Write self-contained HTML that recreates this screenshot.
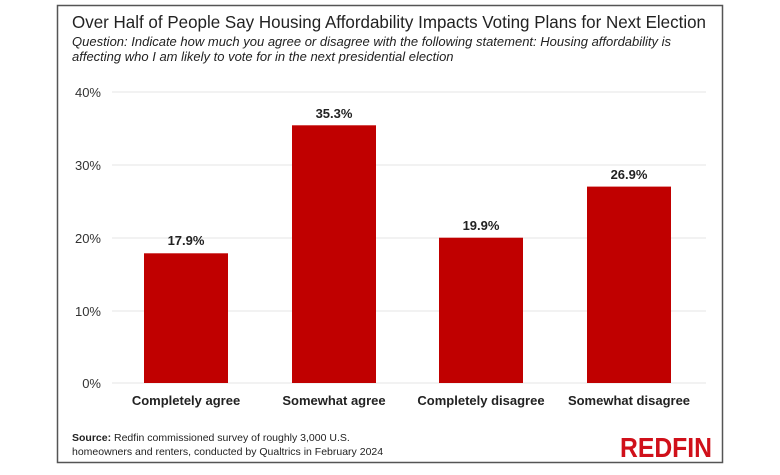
<!DOCTYPE html>
<html><head><style>
body{margin:0;background:#fff;width:780px;height:470px;overflow:hidden;font-family:"Liberation Sans",sans-serif;}
</style></head><body>
<svg width="780" height="470" xmlns="http://www.w3.org/2000/svg" font-family="Liberation Sans, sans-serif">
<rect x="57.5" y="5.5" width="665" height="457" fill="#fff" stroke="#555" stroke-width="1.5"/>
<text x="72" y="28" font-size="17.5" fill="#222" textLength="634" lengthAdjust="spacingAndGlyphs">Over Half of People Say Housing Affordability Impacts Voting Plans for Next Election</text>
<text x="72" y="46" font-size="13" font-style="italic" fill="#222">Question: Indicate how much you agree or disagree with the following statement: Housing affordability is</text>
<text x="72" y="61" font-size="13" font-style="italic" fill="#222">affecting who I am likely to vote for in the next presidential election</text>
<g stroke="#e6e6e6" stroke-width="1">
<line x1="112" x2="706" y1="92" y2="92"/><line x1="112" x2="706" y1="165" y2="165"/><line x1="112" x2="706" y1="238" y2="238"/><line x1="112" x2="706" y1="311" y2="311"/><line x1="112" x2="706" y1="383" y2="383"/>
</g>
<g font-size="13" fill="#333" text-anchor="end">
<text x="101" y="97">40%</text><text x="101" y="170">30%</text><text x="101" y="243">20%</text><text x="101" y="316">10%</text><text x="101" y="388">0%</text>
</g>
<g fill="#c00000">
<rect x="144" y="253.3" width="84" height="129.7"/>
<rect x="292" y="125.3" width="84" height="257.7"/>
<rect x="439" y="237.7" width="84" height="145.3"/>
<rect x="587" y="186.6" width="84" height="196.4"/>
</g>
<g font-size="13" font-weight="bold" fill="#222" text-anchor="middle">
<text x="186" y="245">17.9%</text><text x="334" y="118">35.3%</text><text x="481" y="230">19.9%</text><text x="629" y="179">26.9%</text>
<text x="186" y="405">Completely agree</text><text x="334" y="405">Somewhat agree</text><text x="481" y="405">Completely disagree</text><text x="629" y="405">Somewhat disagree</text>
</g>
<text x="72" y="441" font-size="10.5" fill="#222"><tspan font-weight="bold">Source:</tspan> Redfin commissioned survey of roughly 3,000 U.S.</text>
<text x="72" y="455" font-size="10.5" fill="#222">homeowners and renters, conducted by Qualtrics in February 2024</text>
<text x="712" y="457" font-size="28" font-weight="bold" fill="#d0101a" text-anchor="end" textLength="92" lengthAdjust="spacingAndGlyphs">REDFIN</text>
</svg>
</body></html>
